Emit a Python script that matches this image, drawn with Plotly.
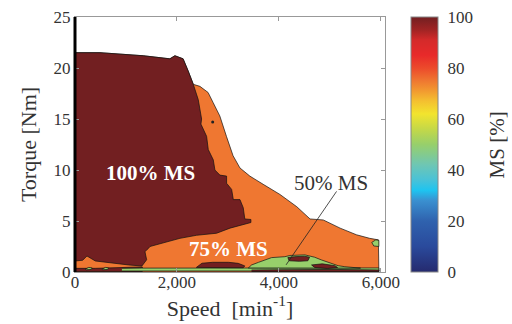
import plotly.graph_objects as go
from plotly.colors import sample_colorscale

# ---------------- data ----------------
# Outer envelope of operating region (75 % MS background)
envelope_speed = [0, 490, 1340, 1860, 1960, 2120, 2220, 2320, 2450, 2610, 2710, 2840, 2970,
                  3100, 3235, 3430, 3690, 4020, 4350, 4610, 4870, 5200, 5520, 5780, 5950,
                  5960, 0]
envelope_torque = [21.5, 21.5, 21.2, 20.9, 21.2, 20.9, 19.7, 18.4, 18.2, 17.6, 16.6, 15.3, 13.3,
                   11.4, 10.2, 9.4, 8.6, 7.6, 6.4, 5.2, 5.1, 4.3, 3.65, 3.3, 3.15,
                   0.0, 0.0]
envelope_ms = 75

# Main 100 % MS region
ms100_main_speed = [0, 490, 1340, 1860, 1960, 2120, 2220, 2320, 2417, 2483, 2470, 2516, 2581,
                    2614, 2712, 2744, 2842, 2973, 2973, 3072, 3105, 3235, 3300, 3330, 3450,
                    3450, 3330, 3235, 3040, 2777, 2385, 2058, 1666, 1470, 1438, 1372, 1405,
                    1313, 1052, 725, 398, 235, 150, 0]
ms100_main_torque = [21.5, 21.5, 21.2, 20.9, 21.2, 20.9, 19.7, 18.4, 16.9, 15.0, 14.5, 14.0, 13.3,
                     12.0, 11.0, 10.0, 9.5, 9.4, 8.7, 8.1, 7.1, 7.1, 6.3, 5.2, 5.15,
                     4.85, 4.7, 4.6, 4.3, 3.8, 3.6, 3.3, 2.8, 2.5, 2.3, 2.0, 1.2,
                     0.59, 0.69, 0.92, 1.08, 1.57, 1.15, 1.08]
ms100_main_ms = 100

# Thin 100 % MS strip at bottom left
ms100_low_speed = [0, 1320, 1320, 1052, 725, 398, 0]
ms100_low_torque = [0.05, 0.05, 0.5, 0.45, 0.38, 0.36, 0.36]

# Bottom 50 % MS strip
ms50_strip_speed = [920, 5960, 5960, 3500, 1300, 920]
ms50_strip_torque = [0.1, 0.1, 0.4, 0.42, 0.38, 0.36]

# 100 % MS patch above the bottom strip (mid speed)
ms100_mid_speed = [2380, 2490, 2700, 3010, 3200, 3330, 3300, 2380]
ms100_mid_torque = [0.45, 0.86, 0.95, 0.95, 0.85, 0.6, 0.42, 0.45]

# 50 % MS hump at 3.5k–5.4k min-1
ms50_hump_speed = [3400, 3463, 3600, 3724, 3855, 4116, 4214, 4508, 4606, 4700, 4835,
                   5031, 5161, 5292, 5450, 5600, 3400]
ms50_hump_torque = [0.4, 0.69, 0.95, 1.18, 1.41, 1.5, 1.62, 1.68, 1.6, 1.45, 1.18,
                    0.86, 0.62, 0.52, 0.42, 0.38, 0.4]

# 100 % MS islands in/below the hump
ms100_isle_speed = [4175, 4300, 4500, 4600, 4567, 4400, 4200, 4175]
ms100_isle_torque = [1.42, 1.5, 1.55, 1.45, 1.1, 1.05, 1.1, 1.42]

ms100_wedge_speed = [4640, 4850, 5096, 5150, 4950, 4700, 4640]
ms100_wedge_torque = [0.69, 0.8, 0.62, 0.45, 0.35, 0.45, 0.69]

ms100_bottom_speed = [3463, 5960, 5960, 5100, 4000, 3463]
ms100_bottom_torque = [0.05, 0.05, 0.2, 0.25, 0.22, 0.2]

# Small 50 % MS specks
ms50_edge_speed = [5820, 5900, 5960, 5960, 5860, 5820]
ms50_edge_torque = [2.9, 3.15, 3.1, 2.5, 2.55, 2.9]

ms50_speck1_speed = [200, 270, 335, 320, 220, 200]
ms50_speck1_torque = [0.28, 0.45, 0.4, 0.25, 0.22, 0.28]
ms50_speck2_speed = [530, 600, 660, 640, 540, 530]
ms50_speck2_torque = [0.28, 0.45, 0.4, 0.25, 0.22, 0.28]

# Tiny 100 % dot inside the 75 % area
dot_speed = [2700]
dot_torque = [14.7]

# Labels
label_text = ["100% MS", "75% MS", "50% MS"]
label_speed = [1490, 3020, 5030]
label_torque = [9.7, 2.3, 8.7]
leader_speed = [5130, 4140]
leader_torque = [7.9, 0.7]

x_ticks = [0, 2000, 4000, 6000]
y_ticks = [0, 5, 10, 15, 20, 25]
cbar_ticks = list(range(0, 101, 10))
cbar_text = [str(v) if v % 20 == 0 else " " for v in cbar_ticks]

# ---------------- style ----------------
colorscale = [
    [0.00, "#252a6e"], [0.10, "#2a4a9c"], [0.20, "#2f62ae"], [0.28, "#3a90d0"],
    [0.32, "#1ec4f0"], [0.36, "#48c2d8"], [0.42, "#6ec6b4"], [0.50, "#97cf6b"],
    [0.56, "#c4d848"], [0.62, "#f2e42e"], [0.67, "#f4c030"], [0.71, "#f29a30"],
    [0.75, "#ef7731"], [0.80, "#ec4a2b"], [0.85, "#e82a2a"], [0.91, "#d42a2a"],
    [0.95, "#a02424"], [1.00, "#721f21"],
]
FONT = "Liberation Serif"
CB_X = 1.084          # colour-bar left edge (paper fraction)
CB_W = 27             # colour-bar thickness (px)
PLOT_W = 310          # plot-area width (px)


def ms_color(v):
    return sample_colorscale(colorscale, [v / 100.0])[0]


polygons = [
    (envelope_speed, envelope_torque, envelope_ms),
    (ms100_main_speed, ms100_main_torque, ms100_main_ms),
    (ms100_low_speed, ms100_low_torque, 100),
    (ms50_strip_speed, ms50_strip_torque, 50),
    (ms100_mid_speed, ms100_mid_torque, 100),
    (ms100_bottom_speed, ms100_bottom_torque, 100),
    (ms50_hump_speed, ms50_hump_torque, 50),
    (ms100_isle_speed, ms100_isle_torque, 100),
    (ms100_wedge_speed, ms100_wedge_torque, 100),
    (ms50_edge_speed, ms50_edge_torque, 50),
    (ms50_speck1_speed, ms50_speck1_torque, 50),
    (ms50_speck2_speed, ms50_speck2_torque, 50),
]

fig = go.Figure()
for xs, ys, v in polygons:
    fig.add_trace(go.Scatter(
        x=xs, y=ys, mode="lines", fill="toself", fillcolor=ms_color(v),
        line=dict(color="#111", width=0.7), hoverinfo="skip", showlegend=False,
    ))

fig.add_trace(go.Scatter(x=dot_speed, y=dot_torque, mode="markers",
                         marker=dict(size=3, color="#222"), showlegend=False, hoverinfo="skip"))

fig.add_trace(go.Scatter(x=leader_speed, y=leader_torque, mode="lines",
                         line=dict(color="#222", width=0.8), showlegend=False, hoverinfo="skip"))

# colour bar carrier (points lie outside the visible range)
fig.add_trace(go.Scatter(
    x=[-5000, -5000], y=[-50, -50], mode="markers", showlegend=False, hoverinfo="skip",
    marker=dict(color=[0, 100], cmin=0, cmax=100, colorscale=colorscale, showscale=True,
                colorbar=dict(
                    x=CB_X, xanchor="left", xpad=0, y=0.5, yanchor="middle",
                    len=1.0, lenmode="fraction", ypad=0, thickness=CB_W,
                    outlinecolor="#888", outlinewidth=1,
                    tickvals=cbar_ticks, ticktext=cbar_text, ticks="outside",
                    ticklen=6, tickcolor="rgba(0,0,0,0)",
                    tickfont=dict(family=FONT, size=17, color="#333"),
                )),
))

# colour-bar title placed as a rotated annotation
fig.add_annotation(xref="paper", yref="paper", x=1.361, y=0.5, text="MS [%]",
                   xanchor="center", yanchor="middle",
                   textangle=-90, showarrow=False,
                   font=dict(family=FONT, size=21, color="#333"))

# inner tick marks on both sides of the colour bar
tick_w = 5 / PLOT_W
cb_right = CB_X + CB_W / PLOT_W
for v in cbar_ticks[1:-1]:
    for xa, xb in ((CB_X, CB_X + tick_w), (cb_right - tick_w, cb_right)):
        fig.add_shape(type="line", xref="paper", yref="paper", x0=xa, x1=xb,
                      y0=v / 100, y1=v / 100, line=dict(color="#555", width=1))

label_colors = ["white", "white", "#333"]
label_weights = ["bold", "bold", "normal"]
for t, sx, ty, c, w in zip(label_text, label_speed, label_torque, label_colors, label_weights):
    fig.add_annotation(x=sx, y=ty, text=t, showarrow=False,
                       font=dict(family=FONT, size=21, color=c, weight=w))

fig.add_shape(type="line", xref="paper", yref="paper", x0=0, x1=0, y0=0, y1=1,
              line=dict(color="black", width=3), layer="above")

axis_common = dict(showline=True, linecolor="#999", linewidth=1, mirror="ticks",
                   ticks="inside", ticklen=4, tickcolor="#999", showgrid=False,
                   zeroline=False, tickfont=dict(family=FONT, size=17, color="#333"))

fig.update_xaxes(range=[0, 6080], tickvals=x_ticks, tickformat=",d",
                 ticklabelstandoff=-5,
                 title=dict(text="Speed  [min<sup>-1</sup>]", standoff=0,
                            font=dict(family=FONT, size=22, color="#333")),
                 **axis_common)
fig.update_yaxes(range=[0, 25], tickvals=y_ticks,
                 title=dict(text="Torque [Nm]", standoff=10,
                            font=dict(family=FONT, size=22, color="#333")),
                 **axis_common)

fig.update_layout(width=512, height=324,
                  margin=dict(l=75, r=127, t=17, b=52, autoexpand=False),
                  paper_bgcolor="white", plot_bgcolor="white", showlegend=False)

# remove the default page margin so the figure sits at the window origin
fig.write_html("out.html", config={"displayModeBar": False},
               post_script="document.body.style.margin='0';")
